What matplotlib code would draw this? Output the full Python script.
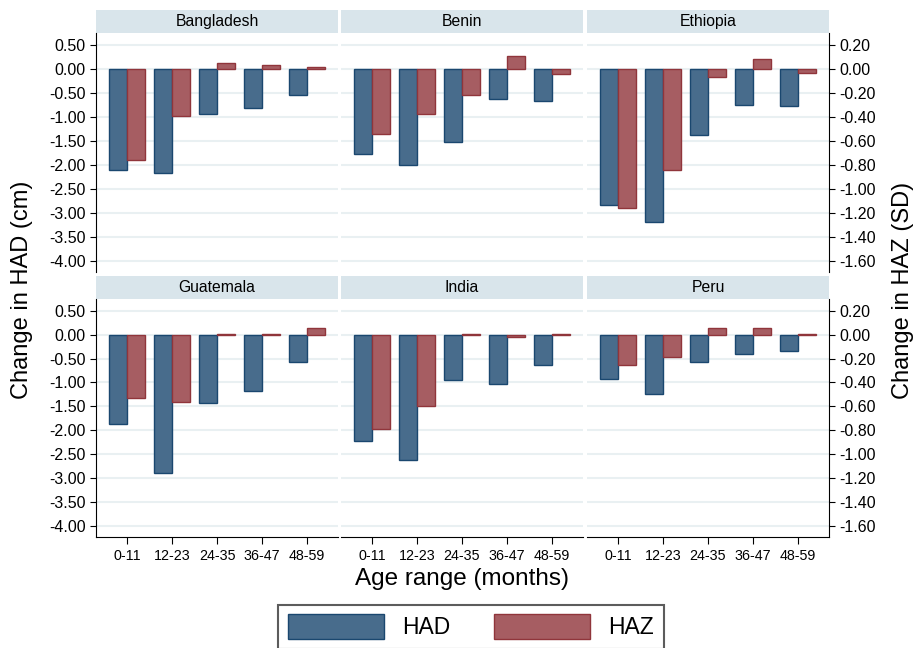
import numpy as np
import matplotlib
matplotlib.use("Agg")
import matplotlib.pyplot as plt
from matplotlib.patches import Patch

plt.rcParams['font.family'] = ['Liberation Sans', 'DejaVu Sans']

countries = ['Bangladesh', 'Benin', 'Ethiopia', 'Guatemala', 'India', 'Peru']
age_ranges = ['0-11', '12-23', '24-35', '36-47', '48-59']

# change in height-for-age difference (cm)
had_bangladesh = [-2.10, -2.17, -0.95, -0.81, -0.55]
had_benin = [-1.77, -2.00, -1.53, -0.62, -0.66]
had_ethiopia = [-2.84, -3.20, -1.37, -0.75, -0.78]
had_guatemala = [-1.87, -2.90, -1.44, -1.18, -0.58]
had_india = [-2.22, -2.63, -0.95, -1.04, -0.64]
had_peru = [-0.92, -1.24, -0.58, -0.41, -0.34]

# change in height-for-age z-score (SD)
haz_bangladesh = [-0.76, -0.39, 0.05, 0.03, 0.02]
haz_benin = [-0.54, -0.38, -0.22, 0.11, -0.04]
haz_ethiopia = [-1.16, -0.84, -0.07, 0.08, -0.03]
haz_guatemala = [-0.53, -0.56, 0.01, 0.01, 0.06]
haz_india = [-0.79, -0.60, 0.01, -0.02, 0.01]
haz_peru = [-0.25, -0.19, 0.06, 0.06, 0.01]

had_all = [had_bangladesh, had_benin, had_ethiopia, had_guatemala, had_india, had_peru]
haz_all = [haz_bangladesh, haz_benin, haz_ethiopia, haz_guatemala, haz_india, haz_peru]

had_fill, had_edge = '#486c8c', '#1a476f'
haz_fill, haz_edge = '#a65d62', '#90353b'
grid_col = '#e9f0f2'
strip_col = '#d9e5eb'

W, H = 919, 648
fig = plt.figure(figsize=(W / 100, H / 100), dpi=100)


def px(x0, y0, x1, y1):
    return [x0 / W, 1 - y1 / H, (x1 - x0) / W, (y1 - y0) / H]


def two_dec(v, pos):
    return f'{round(v, 2) + 0.0:.2f}'


col_x = [96, 341, 587]
panel_w = 242
rows = [(10, 33, 272), (276, 299, 537)]
ylo, yhi = -4.24, 0.75
ratio = 2.5
bw = 0.41
x = np.arange(len(age_ranges))

for i, name in enumerate(countries):
    r, c = divmod(i, 3)
    x0 = col_x[c]
    s_top, p_top, p_bot = rows[r]

    # strip with the country name
    sax = fig.add_axes(px(x0, s_top, x0 + panel_w, p_top))
    sax.set_facecolor(strip_col)
    sax.set_xticks([])
    sax.set_yticks([])
    for s in sax.spines.values():
        s.set_visible(False)
    sax.text(0.5, 0.5, name, ha='center', va='center', fontsize=11.3)

    ax = fig.add_axes(px(x0, p_top, x0 + panel_w, p_bot))
    ax2 = ax.twinx()
    ax.bar(x - bw / 2, had_all[i], bw, color=had_fill, edgecolor=had_edge, lw=1, zorder=3)
    ax2.bar(x + bw / 2, haz_all[i], bw, color=haz_fill, edgecolor=haz_edge, lw=1, zorder=3)

    ax.set_xlim(-0.69, 4.69)
    ax.set_ylim(ylo, yhi)
    ax2.set_ylim(ylo / ratio, yhi / ratio)
    ax.set_yticks(np.arange(-4.0, 0.51, 0.5))
    ax2.set_yticks(np.arange(-1.6, 0.21, 0.2))
    ax.yaxis.set_major_formatter(two_dec)
    ax2.yaxis.set_major_formatter(two_dec)
    ax.yaxis.grid(True, color=grid_col, lw=1.5)
    ax.set_axisbelow(True)

    ax.set_xticks(x)
    ax.set_xticklabels(age_ranges, fontsize=10.3)

    for s in ['top', 'right']:
        ax.spines[s].set_visible(False)
    ax.spines['left'].set_visible(c == 0)
    ax.spines['bottom'].set_visible(r == 1)
    for s in ['top', 'left', 'bottom']:
        ax2.spines[s].set_visible(False)
    ax2.spines['right'].set_visible(c == 2)

    ax.tick_params(axis='y', left=(c == 0), labelleft=(c == 0), labelsize=11.5, length=4)
    ax.tick_params(axis='x', bottom=(r == 1), labelbottom=(r == 1), length=5, pad=4)
    ax2.tick_params(axis='y', right=(c == 2), labelright=(c == 2), labelsize=11.5, length=4)
    ax2.tick_params(axis='x', bottom=False, labelbottom=False)

fig.text(22 / W, 1 - 290 / H, 'Change in HAD (cm)', rotation=90, ha='center', va='center', fontsize=17)
fig.text(903 / W, 1 - 290 / H, 'Change in HAZ (SD)', rotation=90, ha='center', va='center', fontsize=17)
fig.text(462 / W, 1 - 579 / H, 'Age range (months)', ha='center', va='center', fontsize=17.5)

handles = [Patch(facecolor=had_fill, edgecolor=had_edge, label='HAD'),
           Patch(facecolor=haz_fill, edgecolor=haz_edge, label='HAZ')]
leg = fig.legend(handles=handles, loc='upper center', bbox_to_anchor=(471 / W, 1 - 605 / H),
                 ncol=2, fontsize=16.5, frameon=True, fancybox=False, handlelength=4.2,
                 handleheight=1.3, handletextpad=0.8, columnspacing=1.9, borderpad=0.4,
                 borderaxespad=0)
leg.get_frame().set_edgecolor('#333333')
leg.get_frame().set_linewidth(1.5)

fig.savefig('out.png', dpi=100, facecolor='white')
